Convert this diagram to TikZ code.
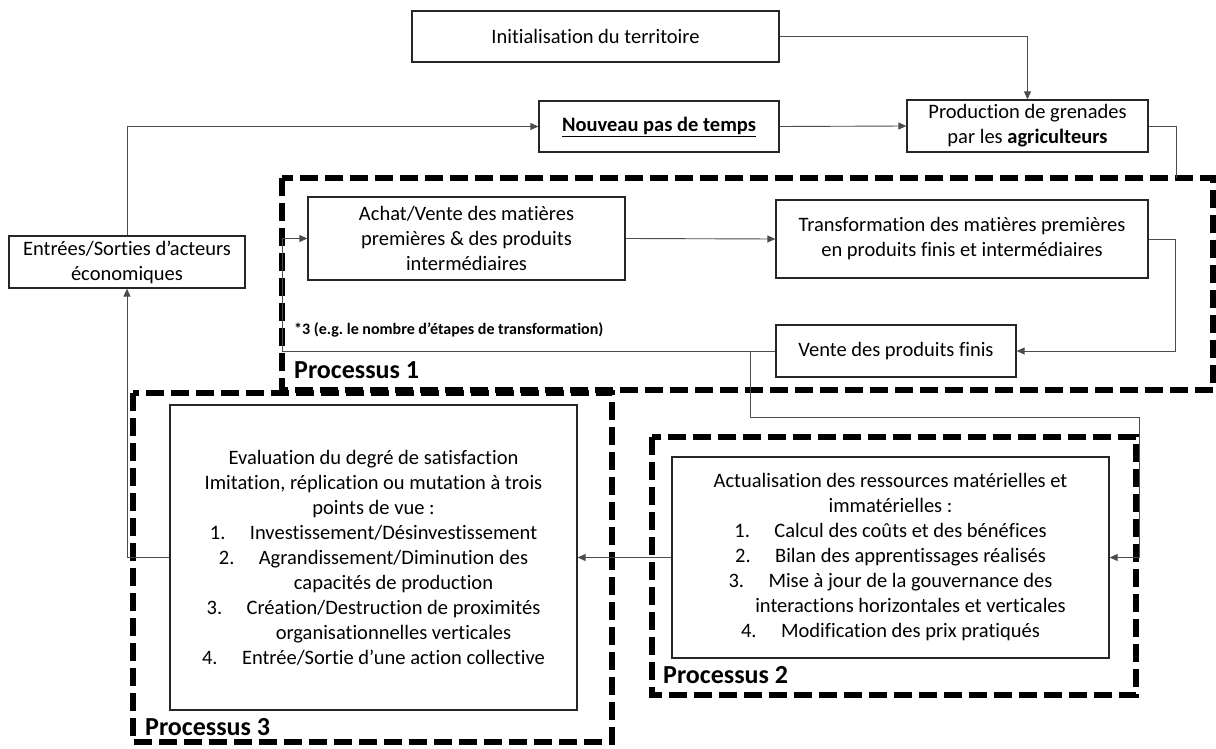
\documentclass[tikz,border=0pt]{standalone}
\usepackage{fontspec}
\setmainfont{Carlito}[Ligatures=NoCommon]
\usetikzlibrary{arrows.meta}
\newcommand\nitem[2]{\makebox[40pt][l]{#1}#2}
\newcommand\ncont[1]{\hspace*{40pt}#1}
\frenchspacing
\begin{document}
\begin{tikzpicture}[x=1pt,y=-1pt,
  box/.style={draw=black!85,line width=1.3pt,inner sep=0pt,align=center,font=\fontsize{20.5}{25}\selectfont},
  conn/.style={draw=black!70,line width=0.9pt},
  arr/.style={conn,-{Triangle[length=8pt,width=7pt]}},
  proc/.style={draw=black,line width=5.5pt,dash pattern=on 18pt off 7pt},
  plabel/.style={anchor=west,inner sep=0pt,font=\fontsize{26}{30}\selectfont\bfseries}]
\useasboundingbox[fill=white] (0,0) rectangle (1216,749);

% process frames
\draw[proc] (282,178) rectangle (1213,390);
\draw[proc] (652,437) rectangle (1136,695);
\draw[proc] (133,393) rectangle (612,742);

% nodes
\node[box,minimum width=367pt,minimum height=51pt] (init) at (595.5,36.5) {Initialisation du territoire};
\node[box,minimum width=240pt,minimum height=51pt] (nouveau) at (659,126.5) {\underline{\textbf{Nouveau pas de temps}}};
\node[box,minimum width=241pt,minimum height=52pt] (prod) at (1027.5,126) {Production de grenades\\par les \textbf{agriculteurs}};
\node[box,minimum width=236pt,minimum height=52pt] (entrees) at (127,262) {Entrées/Sorties d’acteurs\\économiques};
\node[box,minimum width=317pt,minimum height=83pt] (achat) at (466.5,238.5) {Achat/Vente des matières\\premières \& des produits\\intermédiaires};
\node[box,minimum width=372pt,minimum height=78pt] (transf) at (962,239) {Transformation des matières premières\\en produits finis et intermédiaires};
\node[box,minimum width=240pt,minimum height=52pt] (vente) at (896,351) {Vente des produits finis};
\node[box,minimum width=437pt,minimum height=201pt] (actual) at (890.5,557.5) {Actualisation des ressources matérielles et\\
immatérielles :\\
\nitem{1.}{Calcul des coûts et des bénéfices}\\
\nitem{2.}{Bilan des apprentissages réalisés}\\
\nitem{3.}{Mise à jour de la gouvernance des}\\
\ncont{interactions horizontales et verticales}\\
\nitem{4.}{Modification des prix pratiqués}};
\node[box,minimum width=407pt,minimum height=305pt] (eval) at (373.5,557.5) {Evaluation du degré de satisfaction\\
Imitation, réplication ou mutation à trois\\
points de vue :\\
\nitem{1.}{Investissement/Désinvestissement}\\
\nitem{2.}{Agrandissement/Diminution des}\\
\ncont{capacités de production}\\
\nitem{3.}{Création/Destruction de proximités}\\
\ncont{organisationnelles verticales}\\
\nitem{4.}{Entrée/Sortie d’une action collective}};

% labels
\node[plabel] (p1lab) at (294,370) {Processus 1};
\node[plabel] (p2lab) at (663,675) {Processus 2};
\node[plabel] (p3lab) at (145,727) {Processus 3};
\node[anchor=west,inner sep=0pt,font=\fontsize{16}{19}\selectfont\bfseries] (note) at (294,330) {*3 (e.g. le nombre d’étapes de transformation)};

% helper coordinates
\coordinate (p1top) at (1176,178);
\coordinate (p1left) at (282,0);
\coordinate (tr) at (1175,0);
\coordinate (j1) at (750,351);
\coordinate (k1) at (1139,417);

% connectors
\draw[arr] (init.east) -| (prod.north);
\draw[arr] (nouveau.east) -- (prod.west);
\draw[arr] (entrees.north) |- (nouveau.west);
\draw[conn] (prod.east) -| (p1top);
\draw[arr] (achat.east) -- (transf.west);
\draw[arr] (transf.east) -| (tr |- vente.east) -- (vente.east);
\draw[arr] (vente.west) -- (vente.west -| p1left) |- (achat.west);
\draw[arr] (j1) |- (k1) |- (actual.east);
\draw[arr] (actual.west) -- (eval.east);
\draw[arr] (eval.west) -| (entrees.south);
\end{tikzpicture}
\end{document}
